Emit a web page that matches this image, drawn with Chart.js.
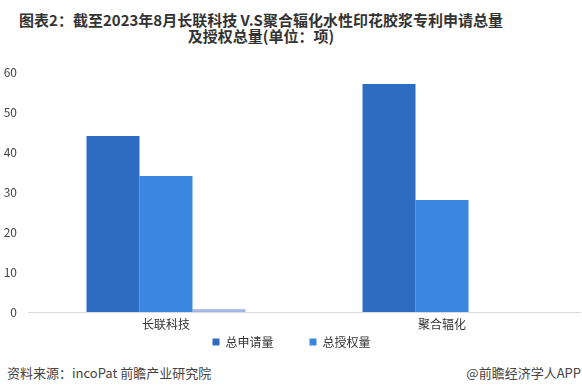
<!DOCTYPE html>
<html>
<head>
<meta charset="utf-8">
<script src="https://cdn.jsdelivr.net/npm/chart.js@4/dist/chart.umd.min.js"></script>
<style>
  html, body { margin: 0; padding: 0; background: #fff; }
  body { width: 582px; height: 392px; position: relative; overflow: hidden;
         font-family: "Noto Sans CJK SC", "Noto Sans", sans-serif; }
  #title { position: absolute; left: 0; top: 12px; width: 522px; text-align: center;
           font-size: 15px; font-weight: bold; line-height: 16px; color: #333; }
  #wrap { position: absolute; left: 0; top: 0; width: 582px; height: 358px; }
  .foot { position: absolute; top: 363px; font-size: 13px; color: #444; }
</style>
</head>
<body>
<div id="title">图表2：截至2023年8月长联科技 V.S聚合辐化水性印花胶浆专利申请总量<br>及授权总量(单位：项)</div>
<div id="wrap"><canvas id="chart"></canvas></div>
<div class="foot" style="left:7px;">资料来源：incoPat 前瞻产业研究院</div>
<div class="foot" style="right:1px;">@前瞻经济学人APP</div>

<script>
// 类别与数据
var CATEGORIES = ["长联科技", "聚合辐化"];
var APPLY_TOTAL = [44, 57];     // 总申请量
var GRANT_TOTAL = [34, 28];     // 总授权量
var OTHER = [0.7, 0];           // 图中第三根细柱（图例未列出）
var Y_TICKS = [0, 10, 20, 30, 40, 50, 60];

var ctx = document.getElementById("chart").getContext("2d");

new Chart(ctx, {
    type: "bar",
    data: {
        labels: CATEGORIES,
        datasets: [
            // 第一项后面补全角空格，用来拉开两个图例的距离
            { label: "总申请量\u3000\u3000\u3000", data: APPLY_TOTAL, backgroundColor: "#2d6cc0" },
            { label: "总授权量", data: GRANT_TOTAL, backgroundColor: "#3a87e0" },
            { label: "", data: OTHER, backgroundColor: "#a3b5e6" }
        ]
    },
    options: {
        responsive: true,
        maintainAspectRatio: false,
        animation: false,
        layout: { padding: { left: 3, right: 2, top: 72, bottom: 0 } },
        datasets: { bar: { categoryPercentage: 0.576, barPercentage: 1 } },
        plugins: {
            title: { display: false },
            tooltip: { enabled: false },
            legend: {
                position: "bottom",
                labels: {
                    color: "#333",
                    boxWidth: 7,
                    boxHeight: 7,
                    padding: 0,
                    font: { size: 12, family: "'Noto Sans CJK SC'" },
                    filter: function (item) { return item.text !== ""; }
                }
            }
        },
        scales: {
            x: {
                grid: { display: false, drawTicks: false },
                border: { display: true, color: "#d9d9d9" },
                ticks: { color: "#333", font: { size: 12, family: "'Noto Sans CJK SC'", lineHeight: 1 }, padding: 6 }
            },
            y: {
                min: 0,
                max: 60,
                afterBuildTicks: function (axis) {
                    axis.ticks = Y_TICKS.map(function (v) { return { value: v }; });
                },
                afterFit: function (axis) { axis.width = 25; },
                grid: { display: false, drawTicks: false },
                border: { display: false },
                ticks: { color: "#444", font: { size: 12, family: "'Noto Sans CJK SC'" }, padding: 11 }
            }
        }
    }
});
</script>
</body>
</html>
